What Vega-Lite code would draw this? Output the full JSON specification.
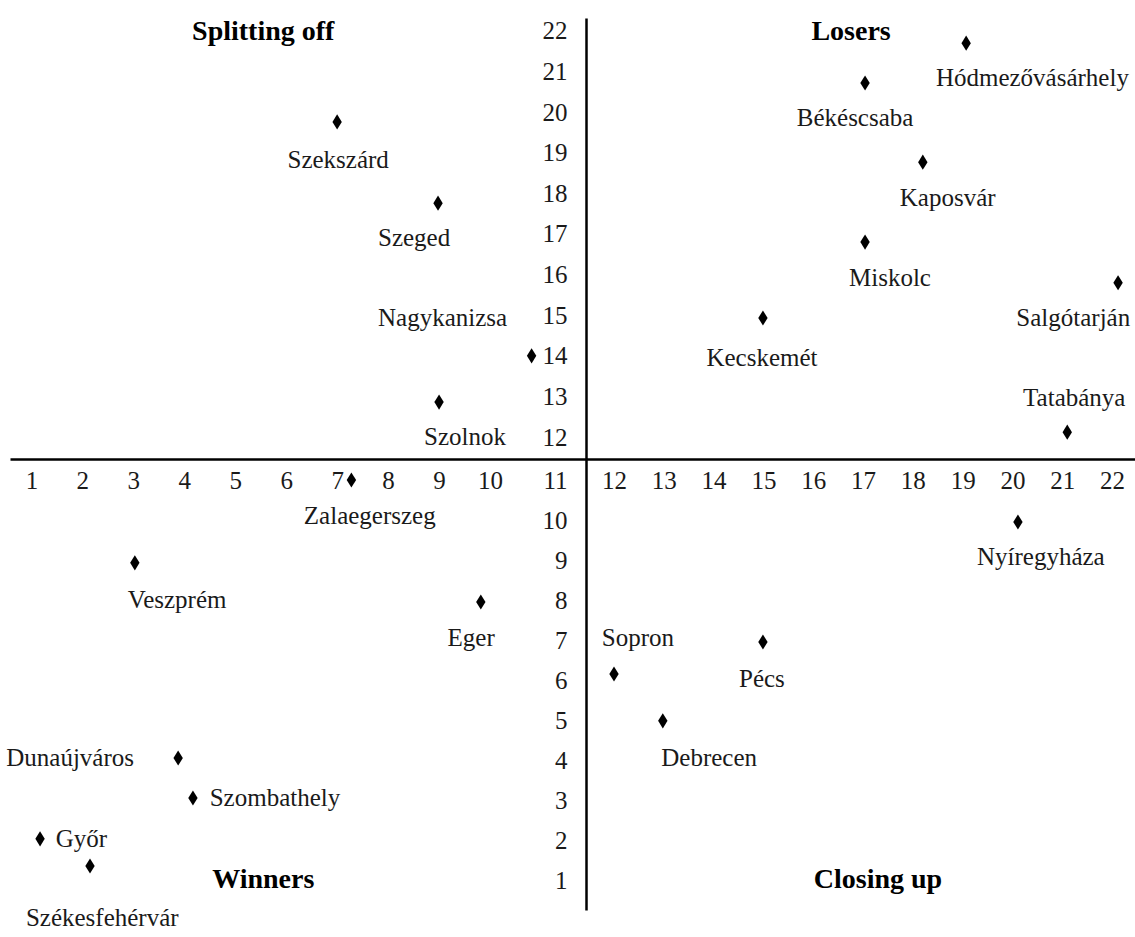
{
  "$schema": "https://vega.github.io/schema/vega-lite/v6.json",
  "width": 1135,
  "height": 937,
  "autosize": "none",
  "padding": 0,
  "background": "white",
  "config": {"view": {"stroke": null}},
  "datasets": {
    "cities": [
      {"city": "Hódmezővásárhely", "x": 19.07, "y": 21.7, "label_x": 20.4, "label_y": 20.84},
      {"city": "Békéscsaba", "x": 17.04, "y": 20.72, "label_x": 16.84, "label_y": 19.86},
      {"city": "Szekszárd", "x": 7.0, "y": 19.76, "label_x": 7.02, "label_y": 18.82},
      {"city": "Kaposvár", "x": 18.2, "y": 18.77, "label_x": 18.7, "label_y": 17.89},
      {"city": "Szeged", "x": 8.98, "y": 17.76, "label_x": 8.51, "label_y": 16.9},
      {"city": "Miskolc", "x": 17.04, "y": 16.8, "label_x": 17.54, "label_y": 15.92},
      {"city": "Salgótarján", "x": 22.12, "y": 15.8, "label_x": 21.22, "label_y": 14.93},
      {"city": "Kecskemét", "x": 14.99, "y": 14.93, "label_x": 14.97, "label_y": 13.95},
      {"city": "Nagykanizsa", "x": 10.64, "y": 14.0, "label_x": 9.07, "label_y": 14.93},
      {"city": "Szolnok", "x": 9.0, "y": 12.86, "label_x": 9.51, "label_y": 12.0},
      {"city": "Tatabánya", "x": 21.1, "y": 12.12, "label_x": 21.24, "label_y": 12.96},
      {"city": "Zalaegerszeg", "x": 7.28, "y": 11.0, "label_x": 7.64, "label_y": 10.1},
      {"city": "Nyíregyháza", "x": 20.11, "y": 9.95, "label_x": 20.57, "label_y": 9.08},
      {"city": "Veszprém", "x": 3.03, "y": 8.93, "label_x": 3.86, "label_y": 8.0},
      {"city": "Eger", "x": 9.82, "y": 7.95, "label_x": 9.63, "label_y": 7.05},
      {"city": "Sopron", "x": 12.0, "y": 6.15, "label_x": 12.48, "label_y": 7.05},
      {"city": "Pécs", "x": 14.99, "y": 6.95, "label_x": 14.97, "label_y": 6.03},
      {"city": "Debrecen", "x": 12.98, "y": 4.98, "label_x": 13.91, "label_y": 4.05},
      {"city": "Dunaújváros", "x": 3.88, "y": 4.05, "label_x": 1.76, "label_y": 4.05},
      {"city": "Szombathely", "x": 4.17, "y": 3.05, "label_x": 5.78, "label_y": 3.05},
      {"city": "Győr", "x": 1.17, "y": 2.03, "label_x": 1.98, "label_y": 2.03},
      {"city": "Székesfehérvár", "x": 2.15, "y": 1.35, "label_x": 2.39, "label_y": 0.05}
    ],
    "quadrants": [
      {"name": "Splitting off", "x": 5.55, "y": 21.98},
      {"name": "Losers", "x": 16.76, "y": 21.98},
      {"name": "Winners", "x": 5.55, "y": 1.0},
      {"name": "Closing up", "x": 17.3, "y": 1.0}
    ]
  },
  "layer": [
    {
      "data": {"name": "cities"},
      "mark": {"type": "point", "shape": "M0,-1L0.62,0L0,1L-0.62,0Z", "filled": true, "color": "black", "opacity": 1, "size": 230},
      "encoding": {
        "x": {
          "field": "x", "type": "quantitative",
          "scale": {"type": "linear", "domain": [0.58, 10, 11, 12, 22.46], "range": [10, 490, 555, 614, 1135], "nice": false, "zero": false},
          "axis": {
            "orient": "bottom", "offset": -478, "title": null, "grid": false, "ticks": false,
            "values": [1,2,3,4,5,6,7,8,9,10,11,12,13,14,15,16,17,18,19,20,21,22],
            "labelFont": "Liberation Serif", "labelFontSize": 25, "labelColor": "#1a1a1a",
            "labelBaseline": "middle", "labelPadding": 21, "labelFlush": false, "labelOverlap": false,
            "domainColor": "black", "domainWidth": 2.5
          }
        },
        "y": {
          "field": "y", "type": "quantitative",
          "scale": {"type": "linear", "domain": [0.25, 11, 12, 22.32], "range": [910, 480, 437, 18], "nice": false, "zero": false},
          "axis": {
            "orient": "left", "offset": -586, "title": null, "grid": false, "ticks": false,
            "values": [1,2,3,4,5,6,7,8,9,10,12,13,14,15,16,17,18,19,20,21,22],
            "labelFont": "Liberation Serif", "labelFontSize": 25, "labelColor": "#1a1a1a",
            "labelPadding": 19, "labelFlush": false, "labelOverlap": false,
            "domainColor": "black", "domainWidth": 2.5
          }
        }
      }
    },
    {
      "data": {"name": "cities"},
      "mark": {"type": "text", "font": "Liberation Serif", "fontSize": 25, "color": "#1a1a1a", "baseline": "middle", "align": "center"},
      "encoding": {
        "x": {"field": "label_x", "type": "quantitative"},
        "y": {"field": "label_y", "type": "quantitative"},
        "text": {"field": "city"}
      }
    },
    {
      "data": {"name": "quadrants"},
      "mark": {"type": "text", "font": "Liberation Serif", "fontSize": 28, "fontWeight": "bold", "color": "black", "baseline": "middle", "align": "center"},
      "encoding": {
        "x": {"field": "x", "type": "quantitative"},
        "y": {"field": "y", "type": "quantitative"},
        "text": {"field": "name"}
      }
    }
  ]
}
